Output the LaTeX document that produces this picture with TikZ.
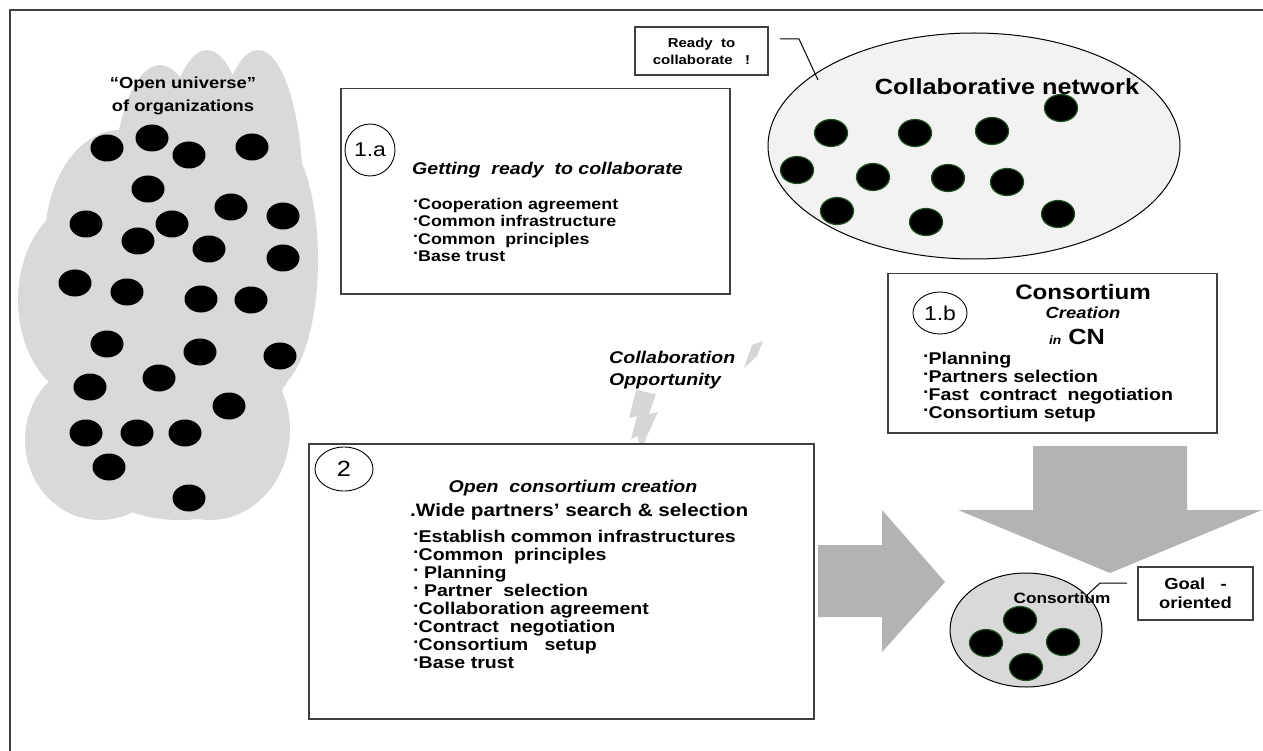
\documentclass[tikz,border=0pt]{standalone}
\usepackage{fontspec}
\setmainfont{Liberation Sans}[FakeStretch=1.15]
\usetikzlibrary{positioning, shapes.geometric}

\definecolor{cloudgray}{HTML}{D9D9D9}
\definecolor{netgray}{HTML}{F2F2F2}
\definecolor{arrowgray}{HTML}{B3B3B3}
\definecolor{boltgray}{HTML}{D6D6D6}
\definecolor{linegray}{HTML}{404040}
\definecolor{dotgreen}{HTML}{1E4D1E}

\newcommand{\fsz}[2]{\fontsize{#1}{#2}\selectfont}
\newcommand{\bul}{\raisebox{0.42em}{.}}

\begin{document}
\begin{tikzpicture}[x=1pt, y=-1pt,
    org/.style={ellipse, fill=black, minimum width=33pt, minimum height=27pt, inner sep=0pt},
    member/.style={org, draw=dotgreen, line width=1.2pt},
    panel/.style={rectangle, draw=linegray, line width=1.5pt, fill=white, anchor=north west, inner sep=0pt},
    tag/.style={ellipse, draw=black, line width=0.9pt, inner sep=0pt, font=\fsz{20}{20}},
    txt/.style={inner sep=0pt, font=\bfseries},
    itemlist/.style={inner sep=0pt, anchor=north west, align=left, font=\bfseries}
]
\useasboundingbox (0,0) rectangle (1263,751);

% frame
\draw[linegray, line width=2pt] (10,751) -- (10,10) -- (1263,10);

% open universe cloud
\fill[cloudgray]
    (160,200) ellipse [x radius=48pt, y radius=135pt]
    (207,190) ellipse [x radius=45pt, y radius=140pt]
    (258,195) ellipse [x radius=45pt, y radius=145pt]
    (120,240) ellipse [x radius=75pt, y radius=110pt]
    (270,260) ellipse [x radius=48pt, y radius=130pt]
    (90,300) ellipse [x radius=72pt, y radius=100pt]
    (170,300) ellipse [x radius=140pt, y radius=150pt]
    (100,440) ellipse [x radius=75pt, y radius=80pt]
    (210,430) ellipse [x radius=80pt, y radius=90pt]
    (180,470) ellipse [x radius=90pt, y radius=50pt];
\node[txt, align=center, font=\bfseries\fsz{16}{23}] (universe) at (183,96) {“Open universe”\\of organizations};
\foreach \x/\y [count=\i] in {107/148, 152/138, 189/155, 252/147, 148/189, 86/224, 172/224,
    138/241, 231/207, 283/216, 209/249, 283/258, 75/283, 127/292, 201/299, 251/300, 107/344,
    200/352, 280/356, 159/378, 90/387, 229/406, 86/433, 137/433, 185/433, 109/467, 189/498}
    \node[org] (o\i) at (\x,\y) {};

% big arrows
\fill[arrowgray] (818,545) -- (882,545) -- (882,510) -- (945,582) -- (882,652) -- (882,617) -- (818,617) -- cycle;
\fill[arrowgray] (1033,446) -- (1187,446) -- (1187,510) -- (1262,510) -- (1110,573) -- (958,510) -- (1033,510) -- cycle;

% lightning
\fill[boltgray] (744,368) -- (752,345) -- (763,341) -- (757,356) -- cycle;
\fill[boltgray] (636,390) -- (656,394) -- (649,414) -- (658,412) -- (646,438) -- (640,456)
    -- (638,436) -- (631,439) -- (637,416) -- (629,418) -- cycle;
\node[itemlist, font=\bfseries\itshape\fsz{17}{22}] (chance) at (609,351) {Collaboration\\Opportunity};

% 1.a
\node[panel, minimum width=389pt, minimum height=205pt] (prepare) at (340,88) {};
\node[tag, minimum width=50pt, minimum height=52pt] (tagA) at (370,150) {1.a};
\node[txt, anchor=west, font=\bfseries\itshape\fsz{17}{17}] (prepTitle) at (412,170) {Getting~ ready~ to collaborate};
\node[itemlist, font=\bfseries\fsz{15.5}{17.3}] (prepList) at (413,198) {\bul Cooperation agreement\\\bul Common infrastructure\\\bul Common~ principles\\\bul Base trust};

% collaborative network
\node[ellipse, draw=black, line width=1pt, fill=netgray, minimum width=412pt, minimum height=226pt, inner sep=0pt] (cn) at (974,146) {};
\node[txt, font=\bfseries\fsz{22}{22}] (cnTitle) at (1007,87) {Collaborative network};
\foreach \x/\y [count=\i] in {831/133, 915/133, 992/131, 1061/108, 797/170, 873/177,
    948/178, 1007/182, 837/211, 926/222, 1058/214}
    \node[member] (m\i) at (\x,\y) {};
\node[rectangle, draw=linegray, line width=1.5pt, fill=white, minimum width=133pt, minimum height=48pt,
    align=center, font=\bfseries\fsz{13}{17}] (ready) at (701.5,51) {Ready~ to\\collaborate~~ !};
\coordinate (readyA) at (780,39);
\coordinate (readyB) at (799,39);
\coordinate (readyC) at (818,80);
\draw[line width=1pt] (readyA) -- (readyB) -- (readyC);

% 1.b
\node[panel, minimum width=329pt, minimum height=159pt] (inside) at (887,273) {};
\node[tag, minimum width=54pt, minimum height=42pt] (tagB) at (940,313) {1.b};
\node[txt, font=\bfseries\fsz{21}{21}] (inTitle) at (1083,292) {Consortium};
\node[txt, font=\bfseries\itshape\fsz{16}{16}] (inSub) at (1083,313) {Creation};
\node[txt, font=\bfseries\fsz{22}{22}] (inCN) at (1077,337) {{\itshape\fsz{12}{12}in} CN};
\node[itemlist, font=\bfseries\fsz{17}{18}] (inList) at (923,352) {\bul Planning\\\bul Partners selection\\\bul Fast~ contract~ negotiation\\\bul Consortium setup};

% 2
\node[panel, minimum width=505pt, minimum height=275pt] (open) at (308,443) {};
\node[tag, minimum width=58pt, minimum height=44pt, font=\fsz{22}{22}] (tagC) at (344,469) {2};
\node[txt, font=\bfseries\itshape\fsz{17}{17}] (openTitle) at (573,488) {Open~ consortium creation};
\node[txt, anchor=west, font=\bfseries\fsz{18}{18}] (openWide) at (410,512) {.Wide partners’ search \& selection};
\node[itemlist, font=\bfseries\fsz{17}{18}] (openList) at (413,530) {\bul Establish common infrastructures\\\bul Common~ principles\\\bul\ Planning\\\bul\ Partner~ selection\\\bul Collaboration agreement\\\bul Contract~ negotiation\\\bul Consortium~~ setup\\\bul Base trust};

% consortium
\node[ellipse, draw=black, line width=1pt, fill=cloudgray, minimum width=152pt, minimum height=114pt, inner sep=0pt] (cons) at (1026,630) {};
\foreach \x/\y [count=\i] in {1020/620, 986/643, 1063/642, 1026/667}
    \node[member] (c\i) at (\x,\y) {};
\node[txt, font=\bfseries\fsz{15}{15}] (consTitle) at (1062,598) {Consortium};
\node[rectangle, draw=linegray, line width=1.5pt, fill=white, minimum width=115pt, minimum height=53pt,
    align=center, font=\bfseries\fsz{16}{19}] (goal) at (1195.5,593.5) {Goal~~ -\\oriented};
\coordinate (goalA) at (1127,583);
\coordinate (goalB) at (1100,583);
\coordinate (goalC) at (1085,597);
\draw[line width=1pt] (goalA) -- (goalB) -- (goalC);
\end{tikzpicture}
\end{document}
